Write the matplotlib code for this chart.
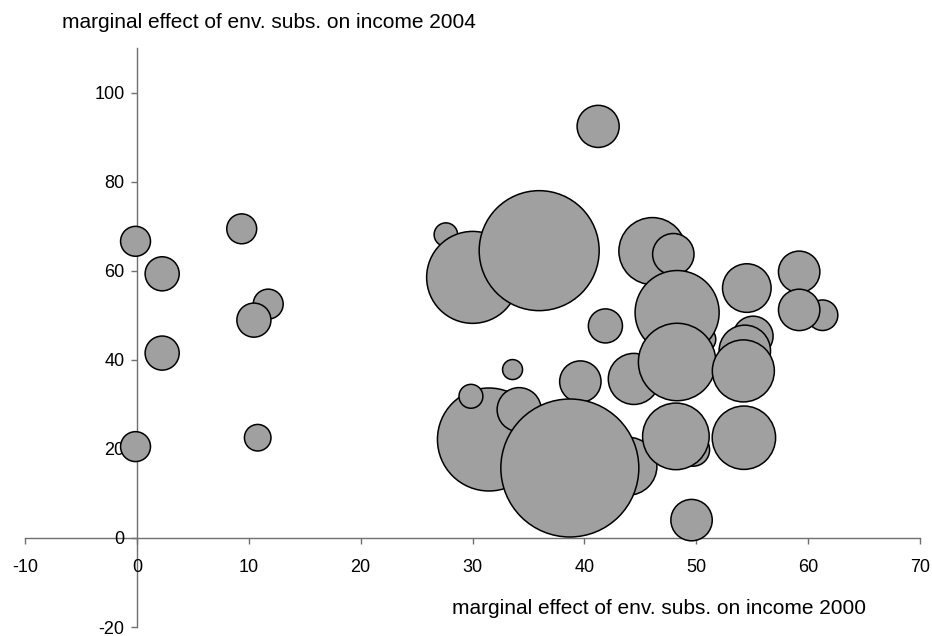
import matplotlib
matplotlib.use("Agg")
import matplotlib.pyplot as plt
import numpy as np

plt.rcParams['font.family'] = ['Liberation Sans', 'DejaVu Sans']

# Data (drawing order: bottom to top)
x2000 = [-0.12, 2.26, 9.37, 11.74, 10.46, 2.26, -0.12, 10.8,
         41.23, 27.62, 30.01, 35.96, 41.88, 46.08, 47.95, 50.59, 48.29,
         44.42, 48.29, 55.08, 54.34, 54.21, 54.52, 59.2, 61.29, 59.2,
         33.58, 31.47, 29.86, 34.17, 39.64, 43.89, 49.72, 48.18, 38.7,
         54.26, 49.58]
y2004 = [66.6, 59.3, 69.4, 52.5, 48.9, 41.5, 20.5, 22.5,
         92.4, 68.1, 58.5, 64.5, 47.6, 64.4, 63.7, 44.6, 50.6,
         35.7, 39.5, 45.3, 42.0, 37.5, 56.1, 59.75, 50.0, 51.2,
         37.8, 22.1, 31.8, 28.8, 35.1, 16.1, 19.8, 22.8, 15.7,
         22.5, 4.0]
size = [4.7, 6.1, 4.7, 4.7, 6.1, 6.1, 4.7, 3.7,
        9.3, 2.9, 44.4, 75.6, 6.1, 23.6, 9.0, 3.5, 37.1,
        13.7, 31.5, 8.4, 13.9, 20.2, 12.4, 9.0, 4.9, 9.0,
        2.1, 55.7, 3.0, 10.2, 9.0, 17.7, 5.7, 23.3, 100.0,
        21.1, 9.0]

xticks = [-10, 0, 10, 20, 30, 40, 50, 60, 70]
yticks = [-20, 0, 20, 40, 60, 80, 100]
xlabel = "marginal effect of env. subs. on income 2000"
ylabel = "marginal effect of env. subs. on income 2004"

W, H, DPI = 932, 636, 100
fig = plt.figure(figsize=(W / DPI, H / DPI), dpi=DPI)
ax = fig.add_axes([25 / W, (H - 627) / H, (920 - 25) / W, (627 - 48) / H])

max_r_px = 69.0
sizes = np.array(size)
s = (2 * max_r_px * 72 / DPI * np.sqrt(sizes / sizes.max())) ** 2
ax.scatter(x2000, y2004, s=s, c='#a0a0a0', edgecolors='black',
           linewidths=1.1, zorder=3, clip_on=False)

ax.set_xlim(-10, 70)
ax.set_ylim(-20, 110)
ax.set_xticks(xticks)
ax.set_yticks(yticks)
ax.set_xticklabels([str(v) for v in xticks])
ax.set_yticklabels([str(v) for v in yticks])

for side in ['top', 'right']:
    ax.spines[side].set_visible(False)
ax.spines['left'].set_position(('data', 0))
ax.spines['bottom'].set_position(('data', 0))
for side in ['left', 'bottom']:
    ax.spines[side].set_color('#707070')
    ax.spines[side].set_linewidth(1.0)
    ax.spines[side].set_zorder(1)
ax.tick_params(axis='both', direction='out', length=4, width=1.0,
               color='#707070', labelcolor='black', labelsize=13)
ax.tick_params(axis='x', pad=11)
ax.tick_params(axis='y', pad=5)

fig.text(62 / W, 1 - 22 / H, ylabel, fontsize=15, ha='left', va='center')
fig.text(452 / W, 1 - 609 / H, xlabel, fontsize=15, ha='left', va='center')

fig.savefig("out.png", dpi=DPI)
